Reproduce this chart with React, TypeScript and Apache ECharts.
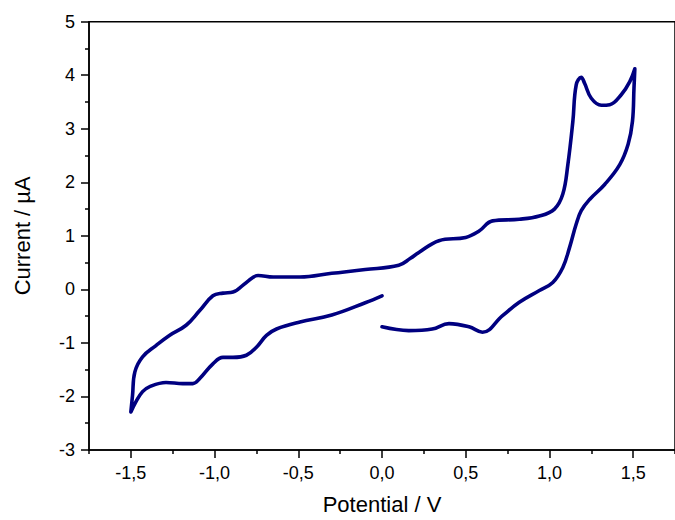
import React, { useEffect, useRef } from "react";
import * as echarts from "echarts";

// Cyclic voltammogram: potential (V) and current (µA), in scan order
const potential = [
  0.0, -0.1, -0.3, -0.49, -0.63, -0.69, -0.75, -0.81, -0.89, -0.95, -1.01, -1.09, -1.13, -1.19, -1.29, -1.39, -1.43, -1.47, -1.5,
  -1.49, -1.476, -1.43, -1.35, -1.27, -1.17, -1.09, -1.01, -0.95, -0.89, -0.81, -0.74, -0.65, -0.49, -0.3, -0.1, 0.1, 0.17, 0.22,
  0.34, 0.5, 0.58, 0.66, 0.82, 0.94, 1.03, 1.08, 1.11, 1.14, 1.16, 1.19, 1.21, 1.25, 1.31, 1.36, 1.43, 1.48, 1.51,
  1.505, 1.496, 1.47, 1.42, 1.33, 1.24, 1.19, 1.16, 1.12, 1.08, 1.02, 0.94, 0.82, 0.72, 0.6, 0.52, 0.4, 0.3, 0.16, 0.0,
];
const current = [
  -0.12, -0.25, -0.48, -0.61, -0.74, -0.86, -1.08, -1.23, -1.27, -1.27, -1.39, -1.67, -1.76, -1.76, -1.74, -1.82, -1.91, -2.1, -2.29,
  -1.98, -1.54, -1.26, -1.05, -0.86, -0.67, -0.4, -0.12, -0.07, -0.05, 0.13, 0.26, 0.23, 0.23, 0.3, 0.37, 0.45, 0.58, 0.69,
  0.91, 0.97, 1.09, 1.28, 1.31, 1.37, 1.5, 1.78, 2.33, 3.14, 3.82, 3.96, 3.85, 3.57, 3.44, 3.45, 3.64, 3.88, 4.12,
  3.76, 3.14, 2.71, 2.33, 1.96, 1.68, 1.47, 1.22, 0.78, 0.41, 0.13, -0.02, -0.24, -0.49, -0.8, -0.7, -0.64, -0.74, -0.77, -0.7,
];

const xMajorTicks = [-1.5, -1.0, -0.5, 0.0, 0.5, 1.0, 1.5];
const xMinorTicks = [-1.75, -1.25, -0.75, -0.25, 0.25, 0.75, 1.25, 1.75];
const xName = "Potential / V";
const yName = "Current / µA";

const FONT = "'Liberation Sans', Arial, Helvetica, sans-serif";

export default function App() {
  const ref = useRef<HTMLDivElement>(null);

  useEffect(() => {
    if (!ref.current) return;
    const chart = echarts.init(ref.current, undefined, { renderer: "svg" });
    const data = potential.map((p, i) => [p, current[i]]);
    const fmtX = (v: number) => v.toFixed(1).replace(".", ",");

    chart.setOption({
      animation: false,
      backgroundColor: "#ffffff",
      grid: {
        left: 89,
        top: 21.7,
        width: 588.7,
        height: 430,
        show: true,
        borderColor: "#000",
        borderWidth: 1.5,
        backgroundColor: "transparent",
      },
      xAxis: [
        {
          type: "value",
          min: -1.75,
          max: 1.75,
          name: xName,
          nameLocation: "middle",
          nameGap: 43,
          nameTextStyle: { fontFamily: FONT, fontSize: 22, color: "#000" },
          axisLine: { show: true, onZero: false, lineStyle: { color: "#000", width: 1.5 } },
          axisTick: { show: true, customValues: xMajorTicks, length: 8, lineStyle: { color: "#000", width: 1.5 } },
          axisLabel: {
            customValues: xMajorTicks,
            formatter: fmtX,
            margin: 14,
            fontFamily: FONT,
            fontSize: 18,
            color: "#000",
          },
          splitLine: { show: false },
        },
        {
          type: "value",
          min: -1.75,
          max: 1.75,
          position: "bottom",
          axisLine: { show: false, onZero: false },
          axisTick: { show: true, customValues: xMinorTicks, length: 4, lineStyle: { color: "#000", width: 1.5 } },
          axisLabel: { show: false },
          splitLine: { show: false },
        },
      ],
      yAxis: {
        type: "value",
        min: -3,
        max: 5,
        interval: 1,
        name: yName,
        nameLocation: "middle",
        nameGap: 56,
        nameTextStyle: { fontFamily: FONT, fontSize: 22, color: "#000" },
        axisLine: { show: true, onZero: false, lineStyle: { color: "#000", width: 1.5 } },
        axisTick: { show: true, length: 8, lineStyle: { color: "#000", width: 1.5 } },
        minorTick: { show: true, splitNumber: 2, length: 4, lineStyle: { color: "#000", width: 1.5 } },
        axisLabel: { margin: 14, fontFamily: FONT, fontSize: 18, color: "#000" },
        splitLine: { show: false },
        minorSplitLine: { show: false },
      },
      series: [
        {
          type: "line",
          xAxisIndex: 0,
          data,
          showSymbol: false,
          smooth: 0.4,
          lineStyle: { color: "#000080", width: 3.6, cap: "round", join: "round" },
          z: 3,
        },
      ],
    });

    return () => chart.dispose();
  }, []);

  return (
    <div
      ref={ref}
      style={{ position: "absolute", left: 0, top: 0, width: 675, height: 520, background: "#fff" }}
    />
  );
}
